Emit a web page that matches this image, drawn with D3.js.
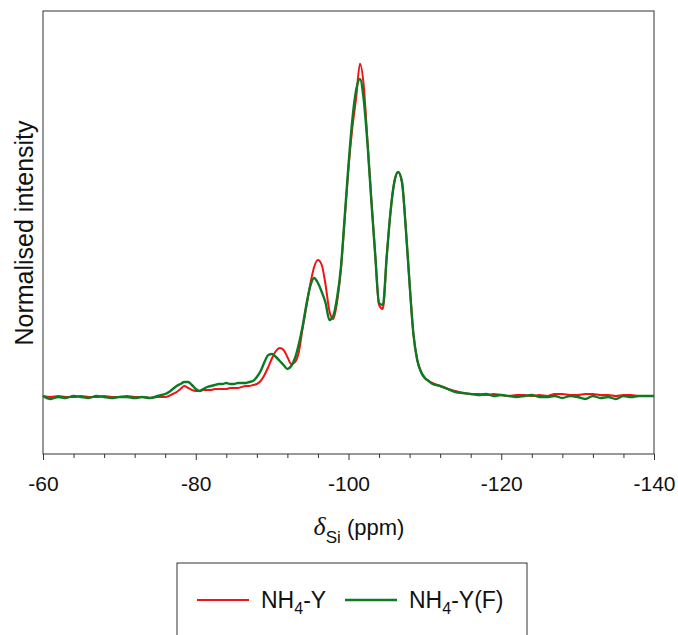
<!DOCTYPE html>
<html>
<head>
<meta charset="utf-8">
<title>29Si MAS NMR spectra</title>
<script src="https://d3js.org/d3.v7.min.js"></script>
<style>
  body { margin: 0; background: #fff; }
  text { font-family: "Liberation Sans", Arial, sans-serif; fill: #111; }
</style>
</head>
<body>
<svg id="chart"></svg>
<script>
// chemical shift grid (ppm)
const ppm = [
  -60, -61, -62, -63, -64, -65, -66, -67, -68, -69, -70, -71, -72, -73, -74, -75,
  -75.5, -76, -76.5, -77, -77.5, -78, -78.5, -79, -79.5, -80,
  -80.5, -81, -81.5, -82, -82.5, -83, -83.5, -84, -84.5, -85,
  -85.5, -86, -86.5, -87, -87.5, -88, -88.5, -89, -89.5, -90,
  -90.5, -91, -91.5, -92, -92.5, -93, -93.5, -94, -94.5, -95,
  -95.5, -96, -96.5, -97, -97.5, -98, -98.5, -99, -99.5, -100,
  -100.5, -101, -101.5, -102, -102.5, -103, -103.5, -104, -104.5, -105,
  -105.5, -106, -106.5, -107, -107.5, -108, -108.5, -109, -109.5, -110,
  -110.5, -111,
  -112, -113, -114, -115, -116, -117, -118, -119, -120, -121, -122, -123, -124, -125,
  -126, -127, -128, -129, -130, -131, -132, -133, -134, -135, -136, -137, -138, -139, -140
];

// normalised intensity, NH4-Y
const nh4Y = [
  0.3, 0, 0.3, 0, 0, 0.3, 0, 0, 0.3, 0, 0, 0.3, 0, 0, -0.3, 0,
  0, 0, 0.3, 0.9, 1.5, 2.4, 3.3, 2.7, 2.1, 1.8,
  1.8, 2.1, 2.1, 2.1, 2.4, 2.4, 2.4, 2.4, 2.7, 2.7,
  2.7, 3.0, 3.3, 3.3, 3.6, 3.9, 4.8, 6.6, 9.0, 11.7,
  13.8, 14.7, 14.1, 12.0, 9.9, 10.5, 13.5, 20.7, 27.3, 33.9,
  39.0, 41.1, 39.6, 33.6, 25.8, 23.4, 28.5, 38.1, 53.1, 68.7,
  80.7, 89.7, 100, 93.3, 76.2, 59.1, 42.6, 27.6, 26.4, 42.0,
  55.5, 64.5, 67.5, 64.5, 50.7, 33.9, 18.9, 11.1, 7.5, 5.7,
  4.8, 4.2,
  3.3, 2.4, 1.8, 1.2, 0.9, 0.9, 0.6, 0.9, 0.6, 0.3, 0.6, 0.6, 0.3, 0.6,
  0.3, 0.9, 0.9, 0.6, 0.6, 0.9, 0.9, 0.6, 0.6, 0.3, 0.6, 0.6, 0.3, 0.3, 0.3
];

// normalised intensity, NH4-Y(F)
const nh4YF = [
  0.3, -0.6, 0, -0.3, 0.3, 0, -0.3, 0.3, 0, -0.3, 0, 0, -0.3, 0, -0.3, 0.3,
  0.6, 0.9, 1.5, 2.4, 3.3, 3.9, 4.5, 4.5, 3.6, 2.4,
  1.8, 2.4, 3.0, 3.3, 3.6, 3.9, 3.9, 4.2, 3.9, 3.9,
  4.2, 4.2, 4.2, 4.5, 4.8, 6.0, 7.8, 10.5, 12.6, 12.9,
  12.0, 10.8, 9.6, 8.4, 9.3, 11.7, 15.9, 21.3, 27.9, 33.3,
  35.7, 34.2, 31.5, 28.2, 23.1, 24.3, 29.7, 38.7, 54.0, 69.6,
  83.1, 92.1, 95.4, 89.1, 75.6, 58.5, 42.6, 28.2, 27.6, 42.0,
  55.5, 64.5, 67.5, 64.5, 50.7, 33.9, 18.9, 11.1, 7.5, 5.7,
  4.8, 3.9,
  3.3, 2.4, 1.5, 1.2, 0.9, 0.6, 0.9, 0.3, 0.6, 0.3, 0, 0.3, 0.6, 0,
  0, 0.3, -0.3, 0.3, 0, -0.6, 0.3, -0.3, 0, -0.6, 0.3, 0, 0.3, 0.3, 0.3
];

const xTicks = [-60, -80, -100, -120, -140];
const xMinorTicks = [-64, -68, -72, -76, -84, -88, -92, -96, -104, -108, -112, -116, -124, -128, -132, -136];

const series = [
  { name: 'NH', sub: '4', tail: '-Y', values: nh4Y, color: '#f01414', width: 2.0 },
  { name: 'NH', sub: '4', tail: '-Y(F)', values: nh4YF, color: '#0a7a23', width: 2.4 }
];

const width = 678, height = 635;
const margin = { top: 11, right: 24, bottom: 181, left: 43 };

const svg = d3.select('#chart')
  .attr('width', width)
  .attr('height', height);

const x = d3.scaleLinear()
  .domain([-60, -140])
  .range([margin.left, width - margin.right]);

const y = d3.scaleLinear()
  .domain([-17.1, 115.8])
  .range([height - margin.bottom, margin.top]);

// minor ticks
svg.append('g')
  .attr('transform', `translate(0,${height - margin.bottom})`)
  .call(d3.axisBottom(x).tickValues(xMinorTicks).tickSize(4).tickFormat(''))
  .call(g => g.select('.domain').remove())
  .call(g => g.selectAll('line').attr('stroke', '#333'));

// major ticks + labels
svg.append('g')
  .attr('transform', `translate(0,${height - margin.bottom})`)
  .call(d3.axisBottom(x).tickValues(xTicks).tickSize(6).tickPadding(16).tickFormat(d => String(d)))
  .call(g => g.select('.domain').remove())
  .call(g => g.selectAll('line').attr('stroke', '#333'))
  .call(g => g.selectAll('text')
    .attr('font-family', '"Liberation Sans", Arial, sans-serif')
    .attr('font-size', 21)
    .attr('fill', '#111'));

// frame
svg.append('rect')
  .attr('x', margin.left)
  .attr('y', margin.top)
  .attr('width', width - margin.left - margin.right)
  .attr('height', height - margin.top - margin.bottom)
  .attr('fill', 'none')
  .attr('stroke', '#333')
  .attr('stroke-width', 1);

// spectra
const line = d3.line()
  .x((d, i) => x(ppm[i]))
  .y(d => y(d))
  .curve(d3.curveMonotoneX);

svg.append('g')
  .selectAll('path')
  .data(series)
  .join('path')
  .attr('d', d => line(d.values))
  .attr('fill', 'none')
  .attr('stroke', d => d.color)
  .attr('stroke-width', d => d.width)
  .attr('stroke-linejoin', 'round');

// y label
svg.append('text')
  .attr('transform', 'translate(33,233) rotate(-90)')
  .attr('text-anchor', 'middle')
  .attr('font-size', 25)
  .text('Normalised intensity');

// x label
const xt = svg.append('text')
  .attr('x', 359)
  .attr('y', 535)
  .attr('text-anchor', 'middle')
  .attr('font-size', 22);
xt.append('tspan')
  .attr('font-family', '"Liberation Serif", "Times New Roman", serif')
  .attr('font-style', 'italic')
  .attr('font-size', 26)
  .text('δ');
xt.append('tspan').attr('font-size', 17).attr('dy', 8).text('Si');
xt.append('tspan').attr('dy', -8).text('\u00a0(ppm)');

// legend
const legend = svg.append('g');
legend.append('rect')
  .attr('x', 177)
  .attr('y', 563)
  .attr('width', 350)
  .attr('height', 90)
  .attr('fill', '#fff')
  .attr('stroke', '#333')
  .attr('stroke-width', 1);

const legendX = [197, 345];
const item = legend.selectAll('g.item')
  .data(series)
  .join('g')
  .attr('class', 'item')
  .attr('transform', (d, i) => `translate(${legendX[i]},600)`);

item.append('line')
  .attr('x1', 0).attr('x2', 52)
  .attr('stroke', d => d.color)
  .attr('stroke-width', d => d.width);

const lt = item.append('text')
  .attr('x', 64)
  .attr('y', 8)
  .attr('font-size', 23);
lt.append('tspan').text(d => d.name);
lt.append('tspan').attr('font-size', 16).attr('dy', 6).text(d => d.sub);
lt.append('tspan').attr('dy', -6).text(d => d.tail);
</script>
</body>
</html>
